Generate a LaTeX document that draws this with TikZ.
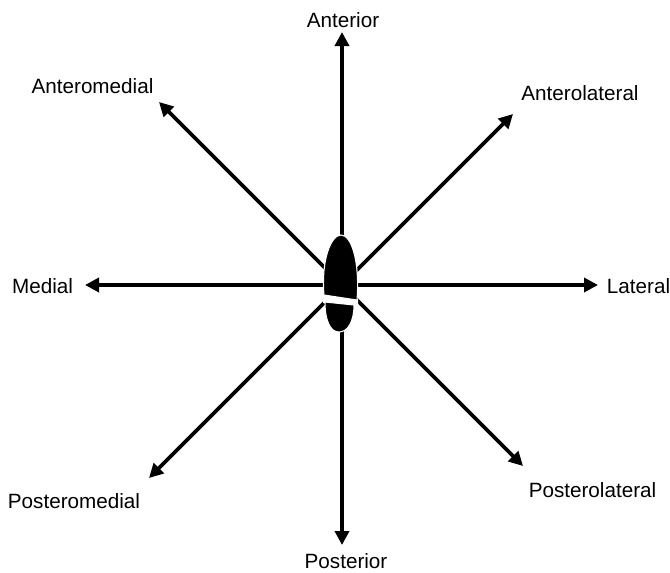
\documentclass[tikz,border=0pt]{standalone}
\usepackage{fontspec}
\setmainfont{Liberation Sans}
\usetikzlibrary{arrows.meta,positioning}

\begin{document}
\begin{tikzpicture}[
      x=0.75pt, y=-0.75pt,
      axis/.style={draw,line width=2.9pt,-{Triangle[length=10.5pt,width=10.5pt]}},
      dirlabel/.style={anchor=base,inner sep=0pt,font=\fontsize{15.5}{18}\selectfont},
      foot/.style={fill=black,draw=white,line width=0.8pt}
      ]
      
      % Cadre fixe de l'image.
      \path[use as bounding box] (0,0) rectangle (670,572);
      
      \coordinate (ctr) at (342,285);
      \coordinate (ant) at (342,32);
      \coordinate (post) at (342,545);
      \coordinate (med) at (85,285);
      \coordinate (lat) at (598,285);
      \coordinate (antmed) at (159,102);
      \coordinate (antlat) at (513,114);
      \coordinate (postmed) at (149,478);
      \coordinate (postlat) at (523,466);
      
      \path[axis] (ctr) -- (ant);
      \path[axis] (ctr) -- (post);
      \path[axis] (ctr) -- (med);
      \path[axis] (ctr) -- (lat);
      \path[axis] (ctr) -- (antmed);
      \path[axis] (ctr) -- (antlat);
      \path[axis] (ctr) -- (postmed);
      \path[axis] (ctr) -- (postlat);
      
      % Empreinte du pied par-dessus les axes.
      \path[fill=white] (323,294) -- (358,299) -- (358,306) -- (323,303) -- cycle;
      \path[foot] (324,295) .. controls (321,260) and (331,235) .. (341,235) .. controls (351,235) and (360,260) .. (357,300) -- cycle;
      \path[foot] (325,302) -- (354,305) .. controls (354,321) and (348,332) .. (339,332) .. controls (330,332) and (325,320) .. (325,302) -- cycle;
      
      \node[dirlabel] (ant-label) at (343,27) {Anterior};
      \node[dirlabel] (post-label) at (346,568.5) {Posterior};
      \node[dirlabel] (med-label) at (42.5,293) {Medial};
      \node[dirlabel] (lat-label) at (638.5,293) {Lateral};
      \node[dirlabel] (antmed-label) at (92.5,93) {Anteromedial};
      \node[dirlabel] (antlat-label) at (580,100) {Anterolateral};
      \node[dirlabel] (postmed-label) at (74,508) {Posteromedial};
      \node[dirlabel] (postlat-label) at (592.5,497) {Posterolateral};
\end{tikzpicture}
\end{document}
